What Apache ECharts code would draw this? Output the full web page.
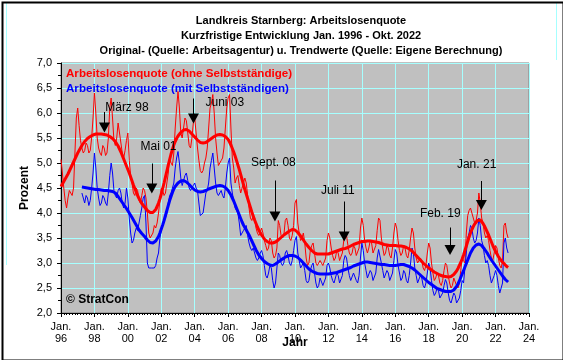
<!DOCTYPE html>
<html><head><meta charset="utf-8">
<script src="https://cdn.jsdelivr.net/npm/echarts@6/dist/echarts.min.js"></script>
<style>html,body{margin:0;padding:0;background:#fff}#c{width:563px;height:360px}</style>
</head><body><div id="c"></div><script>
// ---- data (monthly, index 0 = Jan 1996) ----
const titleLines = ['Landkreis Starnberg: Arbeitslosenquote','Kurzfristige Entwicklung Jan. 1996 - Okt. 2022','Original- (Quelle: Arbeitsagentur) u. Trendwerte (Quelle: Eigene Berechnung)'];
const nameRed = 'Arbeitslosenquote (ohne Selbstständige)';
const nameBlue = 'Arbeitslosenquote (mit Selbstständigen)';
const xTickYears = ['96','98','00','02','04','06','08','10','12','14','16','18','20','22','24'];
const blueStartMonth = 15; // Apr 1997

const redRaw = [
5.07,4.8,4.5,4.25,4.1,4.3,4.45,4.4,4.35,4.5,5.2,5.9,
6.1,5.75,5.45,5.3,5.2,5.25,5.4,5.35,5.2,5.25,5.5,5.9,
6.4,6.0,5.5,5.3,5.2,5.15,5.35,5.3,5.15,5.2,5.5,6.1,
6.3,5.9,5.45,5.35,5.5,5.8,5.6,5.4,5.2,5.1,5.25,5.45,
5.6,5.05,4.75,4.6,4.4,4.35,4.5,4.45,4.25,4.2,4.35,4.5,
4.45,4.3,4.0,3.6,3.5,3.5,3.6,3.75,3.7,3.8,4.0,4.25,
4.5,4.45,4.35,4.4,4.6,4.8,5.1,5.0,4.95,5.2,5.7,6.1,
6.43,6.1,5.6,5.5,5.7,5.9,5.85,5.6,5.35,5.3,5.5,5.8,
5.9,5.6,5.3,5.05,4.85,4.8,4.85,5.0,5.1,5.3,5.7,6.1,
6.2,6.37,6.0,5.5,5.2,4.95,4.95,5.05,5.1,5.3,5.7,6.1,
6.3,6.37,5.7,5.1,4.9,4.6,4.7,4.75,4.55,4.4,4.5,4.6,
4.7,4.6,4.35,4.1,3.9,3.85,3.95,3.9,3.7,3.6,3.55,3.6,
3.7,3.6,3.45,3.35,3.25,3.3,3.5,3.45,3.2,3.1,3.15,3.3,
3.85,3.75,3.55,3.5,3.55,3.85,3.9,3.75,3.5,3.45,3.55,3.75,
4.2,4.27,3.8,3.6,3.45,3.5,3.6,3.4,3.1,2.95,3.0,3.25,
3.35,3.4,3.2,3.0,2.95,2.95,3.05,3.05,2.95,2.95,3.1,3.45,
3.6,3.5,3.3,3.15,3.05,3.1,3.25,3.2,3.05,3.05,3.2,3.45,
3.6,3.55,3.35,3.2,3.15,3.2,3.35,3.3,3.15,3.15,3.3,3.7,
3.9,3.75,3.45,3.3,3.2,3.3,3.45,3.4,3.2,3.2,3.35,3.65,
3.9,3.85,3.5,3.3,3.15,3.2,3.35,3.3,3.15,3.1,3.3,3.6,
3.8,3.7,3.45,3.25,3.15,3.2,3.35,3.3,3.15,3.1,3.25,3.5,
3.7,3.6,3.3,3.1,3.0,3.0,3.1,3.05,2.9,2.85,2.95,3.2,
3.4,3.3,3.0,2.8,2.65,2.7,2.8,2.75,2.6,2.55,2.65,2.85,
3.0,2.95,2.75,2.6,2.5,2.55,2.7,2.7,2.55,2.5,2.6,2.85,
3.1,3.05,3.0,3.6,3.95,4.05,4.1,4.1,3.9,3.8,3.85,4.0,
4.4,4.2,3.9,3.8,3.6,3.5,3.55,3.45,3.25,3.1,3.05,3.2,
3.35,3.3,3.1,2.95,2.9,3.05,3.75,3.8,3.6,3.5
];
const redTrend = [
4.53,4.58,4.63,4.68,4.73,4.78,4.84,4.90,4.96,5.02,5.08,5.14,
5.20,5.25,5.30,5.35,5.39,5.43,5.46,5.49,5.51,5.53,5.55,5.56,
5.57,5.58,5.58,5.58,5.58,5.58,5.58,5.57,5.57,5.56,5.55,5.53,
5.51,5.49,5.46,5.43,5.39,5.34,5.28,5.22,5.15,5.08,5.01,4.94,
4.87,4.80,4.72,4.64,4.56,4.49,4.42,4.35,4.29,4.24,4.19,4.15,
4.12,4.08,4.05,4.02,4.01,4.00,4.01,4.03,4.07,4.13,4.20,4.28,
4.38,4.49,4.60,4.72,4.84,4.96,5.07,5.18,5.27,5.36,5.43,5.49,
5.54,5.58,5.61,5.64,5.66,5.67,5.67,5.66,5.64,5.61,5.58,5.55,
5.52,5.49,5.46,5.43,5.41,5.40,5.40,5.40,5.41,5.43,5.45,5.47,
5.49,5.51,5.53,5.55,5.56,5.57,5.57,5.57,5.56,5.55,5.53,5.51,
5.47,5.42,5.36,5.29,5.22,5.14,5.05,4.96,4.87,4.77,4.67,4.57,
4.47,4.38,4.29,4.20,4.11,4.02,3.94,3.86,3.79,3.72,3.66,3.61,
3.56,3.52,3.48,3.45,3.43,3.41,3.40,3.40,3.40,3.41,3.42,3.44,
3.46,3.48,3.51,3.53,3.56,3.58,3.60,3.62,3.64,3.66,3.67,3.67,
3.66,3.64,3.61,3.58,3.54,3.50,3.46,3.42,3.38,3.34,3.31,3.28,
3.25,3.22,3.20,3.19,3.18,3.18,3.18,3.18,3.18,3.18,3.18,3.18,
3.18,3.19,3.20,3.21,3.22,3.23,3.24,3.25,3.26,3.27,3.28,3.29,
3.29,3.30,3.31,3.33,3.34,3.36,3.37,3.38,3.39,3.40,3.41,3.42,
3.43,3.43,3.43,3.44,3.44,3.44,3.44,3.43,3.43,3.43,3.42,3.42,
3.41,3.40,3.39,3.38,3.37,3.37,3.36,3.36,3.35,3.35,3.35,3.35,
3.35,3.35,3.34,3.34,3.34,3.33,3.33,3.32,3.31,3.30,3.28,3.26,
3.24,3.21,3.18,3.15,3.12,3.09,3.06,3.03,3.00,2.97,2.95,2.92,
2.90,2.88,2.86,2.84,2.82,2.80,2.79,2.77,2.76,2.75,2.74,2.73,
2.73,2.72,2.72,2.72,2.73,2.75,2.77,2.80,2.84,2.89,2.95,3.01,
3.08,3.16,3.25,3.34,3.43,3.52,3.60,3.67,3.73,3.78,3.82,3.85,
3.87,3.86,3.83,3.79,3.74,3.68,3.62,3.56,3.49,3.42,3.35,3.29,
3.23,3.18,3.13,3.09,3.05,3.02,2.99,2.96,2.93,2.91
];
const blueRaw = [
4.4,4.3,4.2,4.35,4.3,4.15,4.25,4.5,4.8,
5.2,4.9,4.5,4.3,4.15,4.2,4.35,4.3,4.2,4.15,4.4,4.75,
5.0,4.8,4.45,4.35,4.3,4.45,4.5,4.4,4.2,4.1,4.2,4.5,
4.3,3.9,3.6,3.4,3.45,3.6,3.7,3.65,3.8,3.95,4.1,4.3,
4.35,3.8,3.0,2.9,2.9,2.9,2.9,2.9,2.95,3.1,3.2,3.5,
3.65,3.75,3.85,3.9,4.0,4.2,4.35,4.4,4.4,4.6,4.9,5.1,
5.23,5.0,4.7,4.55,4.65,4.75,4.8,4.65,4.5,4.45,4.5,4.55,
4.6,4.5,4.45,4.2,3.95,3.95,4.0,4.2,4.4,4.45,4.6,4.9,
5.05,5.2,4.9,4.6,4.4,4.35,4.4,4.45,4.35,4.3,4.5,4.8,
5.0,5.1,4.6,4.4,4.25,4.1,4.1,4.0,3.8,3.55,3.6,3.65,
3.7,3.75,3.55,3.4,3.3,3.25,3.3,3.2,3.1,3.05,3.1,3.2,
3.25,3.15,2.95,2.75,2.7,2.8,2.95,2.9,2.65,2.5,2.6,2.9,
3.2,3.15,3.0,2.95,3.0,3.2,3.25,3.15,3.0,2.95,3.05,3.25,
3.45,3.53,3.2,3.05,2.9,2.9,3.0,2.85,2.65,2.6,2.65,2.85,
2.95,3.0,2.8,2.6,2.5,2.55,2.7,2.7,2.55,2.55,2.7,2.95,
3.0,2.9,2.75,2.65,2.6,2.7,2.8,2.75,2.6,2.6,2.75,3.05,
3.15,3.1,2.9,2.75,2.65,2.65,2.8,2.8,2.65,2.6,2.75,3.1,
3.4,3.25,3.0,2.85,2.7,2.7,2.85,2.8,2.65,2.65,2.8,3.1,
3.27,3.25,3.0,2.85,2.7,2.7,2.85,2.8,2.65,2.65,2.8,3.05,
3.27,3.2,2.95,2.8,2.65,2.7,2.85,2.8,2.65,2.6,2.75,3.0,
3.3,3.2,2.9,2.75,2.6,2.6,2.75,2.7,2.55,2.5,2.6,2.8,
3.0,2.9,2.65,2.45,2.35,2.4,2.5,2.45,2.3,2.3,2.4,2.55,
2.67,2.6,2.4,2.25,2.2,2.3,2.4,2.35,2.2,2.2,2.3,2.45,
2.65,2.6,2.6,3.2,3.5,3.6,3.75,3.7,3.5,3.4,3.45,3.6,
3.9,3.75,3.45,3.35,3.15,3.0,3.05,2.95,2.75,2.6,2.6,2.75,
2.85,2.75,2.55,2.4,2.4,2.6,3.4,3.5,3.3,3.2
];
const blueTrend = [
4.52,4.51,4.51,4.50,4.50,4.49,4.49,4.48,4.48,
4.48,4.47,4.47,4.47,4.46,4.46,4.46,4.45,4.45,4.45,4.45,4.44,
4.44,4.43,4.42,4.40,4.37,4.33,4.29,4.25,4.21,4.17,4.13,4.09,
4.05,4.00,3.96,3.91,3.86,3.81,3.76,3.71,3.66,3.62,3.59,3.56,
3.53,3.49,3.46,3.43,3.41,3.40,3.40,3.41,3.44,3.48,3.53,3.60,
3.68,3.76,3.85,3.95,4.05,4.15,4.25,4.33,4.41,4.48,4.53,4.57,
4.60,4.62,4.64,4.65,4.65,4.64,4.62,4.60,4.57,4.54,4.51,4.48,
4.46,4.44,4.43,4.42,4.42,4.42,4.43,4.44,4.45,4.46,4.48,4.49,
4.50,4.51,4.52,4.53,4.54,4.55,4.55,4.55,4.54,4.53,4.51,4.48,
4.45,4.41,4.36,4.30,4.24,4.17,4.10,4.03,3.96,3.89,3.82,3.76,
3.71,3.66,3.61,3.56,3.50,3.44,3.38,3.32,3.26,3.21,3.16,3.12,
3.09,3.06,3.03,3.01,2.99,2.97,2.96,2.95,2.95,2.96,2.98,3.00,
3.02,3.04,3.06,3.08,3.10,3.12,3.13,3.14,3.15,3.15,3.15,3.15,
3.14,3.13,3.11,3.09,3.06,3.03,3.00,2.97,2.94,2.91,2.88,2.86,
2.84,2.82,2.81,2.80,2.79,2.78,2.78,2.78,2.78,2.78,2.78,2.78,
2.78,2.78,2.79,2.79,2.80,2.80,2.81,2.82,2.83,2.84,2.85,2.86,
2.87,2.88,2.89,2.90,2.91,2.93,2.94,2.95,2.96,2.97,2.98,2.99,
3.00,3.01,3.02,3.02,3.02,3.02,3.01,3.01,3.00,3.00,2.99,2.99,
2.98,2.98,2.97,2.97,2.97,2.96,2.96,2.96,2.95,2.95,2.95,2.95,
2.95,2.96,2.96,2.97,2.97,2.97,2.97,2.96,2.95,2.94,2.93,2.91,
2.90,2.88,2.86,2.83,2.81,2.78,2.76,2.73,2.71,2.68,2.66,2.63,
2.61,2.59,2.57,2.55,2.53,2.51,2.49,2.48,2.47,2.46,2.45,2.44,
2.43,2.43,2.43,2.43,2.43,2.44,2.46,2.49,2.53,2.58,2.64,2.71,
2.78,2.85,2.92,2.99,3.06,3.13,3.20,3.25,3.30,3.33,3.36,3.37,
3.38,3.37,3.35,3.32,3.28,3.24,3.20,3.15,3.11,3.06,3.02,2.98,
2.94,2.90,2.86,2.82,2.78,2.74,2.70,2.67,2.64,2.62
];
// annotations (month index, arrow top value, arrow head value, label month, label value)
const annoText   = ['März 98','Mai 01','Juni 03','Sept. 08','Juli 11','Feb. 19','Jan. 21'];
const annoMonth  = [31.2, 65.2, 95.1, 153.6, 203.3, 279.3, 301.8];
const annoTop    = [6.02, 4.99, 6.29, 4.65, 4.23, 3.71, 4.64];
const annoHead   = [5.71, 4.49, 5.89, 3.93, 3.53, 3.26, 4.16];
const annoLblM   = [47.3, 70.0, 117.6, 152.5, 198.8, 272.3, 298.4];
const annoLblV   = [6.10, 5.32, 6.20, 5.00, 4.45, 3.98, 4.96];

// ---- chart ----
const FONT = 'Liberation Sans, Arial, sans-serif';
const gridColor = '#A6FFFF';
const chart = echarts.init(document.getElementById('c'), null, {renderer: 'canvas'});
const pts = (arr, off) => arr.map((v, i) => [i + off, v]);

const markLineData = annoText.map((t, i) => [
  {coord: [annoMonth[i], annoTop[i]]},
  {coord: [annoMonth[i], annoHead[i]]}
]);
const markPointData = annoText.map((t, i) => ({name: t, coord: [annoLblM[i], annoLblV[i]], value: t}));

chart.setOption({
  animation: false,
  backgroundColor: '#fff',
  title: {
    text: titleLines.join('\n'),
    left: 296, top: 8, textAlign: 'center',
    textStyle: {fontFamily: FONT, fontSize: 11, fontWeight: 'bold', color: '#000', lineHeight: 15}
  },
  legend: {
    orient: 'vertical', left: 56, top: 63, itemWidth: 0, itemHeight: 0, itemGap: 3,
    selectedMode: false,
    textStyle: {fontFamily: FONT, fontSize: 11.6, fontWeight: 'bold'},
    data: [
      {name: nameRed, icon: 'rect', textStyle: {color: '#FF0000'}},
      {name: nameBlue, icon: 'rect', textStyle: {color: '#0000FF'}}
    ]
  },
  grid: {left: 61, right: 34, top: 63, bottom: 47, show: true, backgroundColor: '#C0C0C0', borderColor: '#808080', borderWidth: 1},
  xAxis: {
    type: 'value', min: 0, max: 336, interval: 24,
    axisLine: {lineStyle: {color: '#000', width: 1}},
    axisTick: {length: 4, lineStyle: {color: '#000'}},
    minorTick: {show: true, splitNumber: 12, length: 2, lineStyle: {color: '#000'}},
    splitLine: {show: true, lineStyle: {color: gridColor, width: 1}},
    axisLabel: {
      formatter: v => 'Jan.\n' + xTickYears[Math.round(v / 24)],
      fontFamily: FONT, fontSize: 11, lineHeight: 12, color: '#000', margin: 8
    },
    name: 'Jahr', nameLocation: 'middle', nameGap: 24, nameMoveOverlap: false,
    nameTextStyle: {fontFamily: FONT, fontSize: 12, fontWeight: 'bold', color: '#000'}
  },
  yAxis: {
    type: 'value', min: 2, max: 7, interval: 0.5,
    axisLine: {show: true, lineStyle: {color: '#000', width: 1}},
    axisTick: {show: true, length: 4, lineStyle: {color: '#000'}},
    minorTick: {show: true, splitNumber: 2, length: 3, lineStyle: {color: '#000'}},
    splitLine: {show: true, lineStyle: {color: gridColor, width: 1}},
    axisLabel: {
      formatter: v => v.toFixed(1).replace('.', ','),
      fontFamily: FONT, fontSize: 11, color: '#000', margin: 9
    },
    name: 'Prozent', nameLocation: 'middle', nameGap: 30, nameRotate: 90, nameMoveOverlap: false,
    nameTextStyle: {fontFamily: FONT, fontSize: 12, fontWeight: 'bold', color: '#000'}
  },
  series: [
    {name: nameRed, type: 'line', data: pts(redRaw, 0), showSymbol: false, symbol: 'none',
     lineStyle: {color: '#FF0000', width: 1}, itemStyle: {color: '#FF0000'}, z: 2},
    {name: nameBlue, type: 'line', data: pts(blueRaw, blueStartMonth), showSymbol: false, symbol: 'none',
     lineStyle: {color: '#0000FF', width: 1}, itemStyle: {color: '#0000FF'}, z: 2},
    {name: nameRed, type: 'line', data: pts(redTrend, 0), showSymbol: false, symbol: 'none',
     lineStyle: {color: '#FF0000', width: 3}, itemStyle: {color: '#FF0000'}, z: 3},
    {name: nameBlue, type: 'line', data: pts(blueTrend, blueStartMonth), showSymbol: false, symbol: 'none',
     lineStyle: {color: '#0000FF', width: 3}, itemStyle: {color: '#0000FF'}, z: 3,
     markLine: {
       silent: true, symbol: ['none', 'triangle'], symbolSize: [11, 10],
       lineStyle: {color: '#000', width: 1, type: 'solid'},
       itemStyle: {color: '#000'},
       label: {show: false}, emphasis: {disabled: true},
       data: markLineData
     },
     markPoint: {
       silent: true, symbol: 'circle', symbolSize: 0,
       label: {show: true, position: 'inside', formatter: p => p.name, fontFamily: FONT, fontSize: 12, color: '#000'},
       data: markPointData
     }
    }
  ],
  graphic: [
    {type: 'rect', left: 0, top: 0, shape: {x: 1, y: 1, width: 561, height: 358}, style: {fill: 'none', stroke: '#000', lineWidth: 2}, silent: true, z: 100},
    {type: 'line', shape: {x1: 6.5, y1: 3, x2: 6.5, y2: 265}, style: {stroke: '#A6FFFF', lineWidth: 1}, silent: true},
    {type: 'line', shape: {x1: 556.5, y1: 3, x2: 556.5, y2: 60}, style: {stroke: '#A6FFFF', lineWidth: 1}, silent: true},
    {type: 'text', left: 66, top: 294, style: {text: '© StratCon', font: 'bold 12px ' + FONT, fill: '#000'}, silent: true, z: 50}
  ]
});
</script></body></html>
